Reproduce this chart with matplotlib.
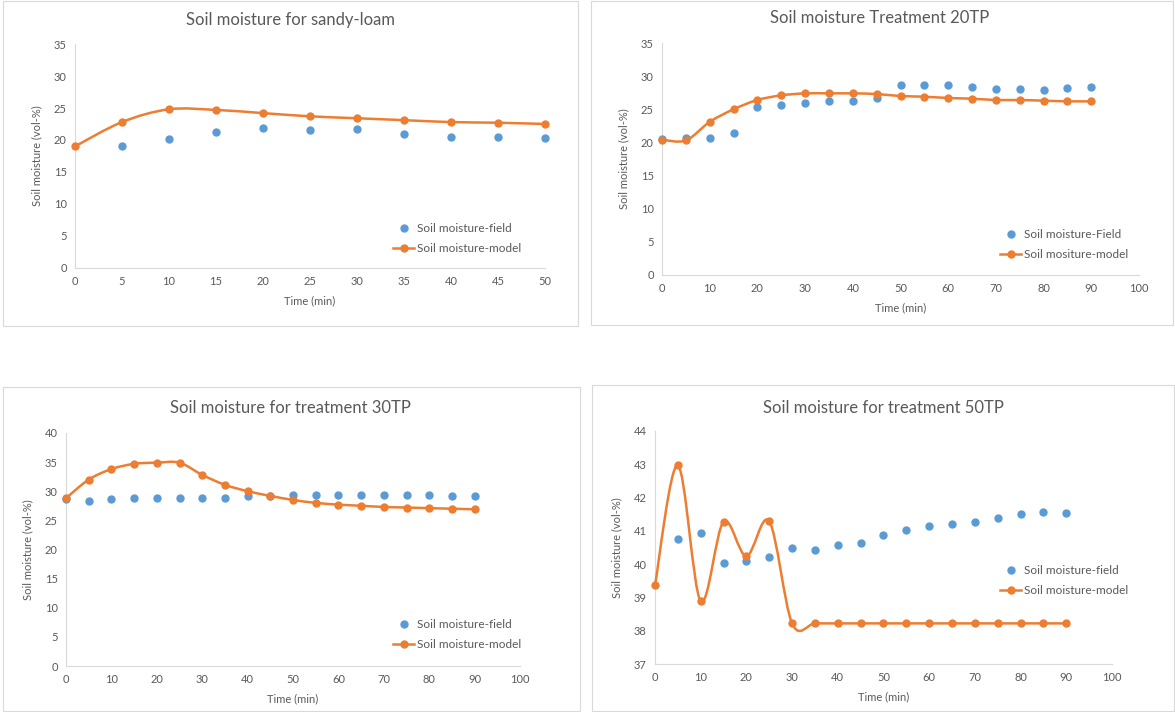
import numpy as np
import matplotlib
matplotlib.use('Agg')
import matplotlib.pyplot as plt
from matplotlib.path import Path
from matplotlib.patches import PathPatch, Rectangle
from matplotlib.lines import Line2D

plt.rcParams['font.family'] = ['Lato', 'DejaVu Sans']

BLUE = '#5B9BD5'
ORANGE = '#ED7D31'
GREY = '#595959'

# sandy-loam
t_sl = [0, 5, 10, 15, 20, 25, 30, 35, 40, 45, 50]
field_sl_t = [5, 10, 15, 20, 25, 30, 35, 40, 45, 50]
field_sl = [19.0, 20.2, 21.2, 21.8, 21.5, 21.7, 20.9, 20.5, 20.5, 20.3]
model_sl = [19.0, 22.8, 24.8, 24.7, 24.2, 23.7, 23.4, 23.1, 22.8, 22.7, 22.5]

# treatment 20TP
t_90 = [0, 5, 10, 15, 20, 25, 30, 35, 40, 45, 50, 55, 60, 65, 70, 75, 80, 85, 90]
field_20 = [20.5, 20.6, 20.6, 21.4, 25.3, 25.7, 26.0, 26.2, 26.3, 26.7,
            28.6, 28.7, 28.7, 28.4, 28.1, 28.0, 27.9, 28.2, 28.4]
model_20 = [20.4, 20.3, 23.1, 25.0, 26.4, 27.1, 27.4, 27.4, 27.4, 27.3,
            27.0, 26.9, 26.7, 26.6, 26.4, 26.4, 26.3, 26.2, 26.2]

# treatment 30TP
field_30 = [28.7, 28.4, 28.6, 28.8, 28.9, 28.8, 28.8, 28.9, 29.1, 29.2,
            29.3, 29.3, 29.3, 29.3, 29.3, 29.3, 29.3, 29.1, 29.1]
model_30 = [28.8, 32.0, 33.8, 34.7, 34.9, 34.9, 32.8, 31.1, 30.0, 29.2,
            28.5, 28.0, 27.7, 27.5, 27.3, 27.2, 27.1, 27.0, 26.9]

# treatment 50TP
field_50_t = t_90[1:]
field_50 = [40.77, 40.94, 40.02, 40.08, 40.22, 40.48, 40.42, 40.56, 40.62,
            40.88, 41.04, 41.14, 41.20, 41.26, 41.40, 41.51, 41.58, 41.55]
model_50 = [39.36, 42.97, 38.89, 41.27, 40.24, 41.29, 38.22, 38.22, 38.22, 38.22,
            38.22, 38.22, 38.22, 38.22, 38.22, 38.22, 38.22, 38.22, 38.22]


def smooth_path(x, y):
    # Excel style smoothed line: cubic bezier through the points
    pts = np.column_stack([x, y]).astype(float)
    n = len(pts)
    verts = [pts[0]]
    codes = [Path.MOVETO]
    for i in range(n - 1):
        p0 = pts[i - 1] if i > 0 else pts[i]
        p1 = pts[i]
        p2 = pts[i + 1]
        p3 = pts[i + 2] if i + 2 < n else pts[i + 1]
        verts += [p1 + (p2 - p0) / 6, p2 - (p3 - p1) / 6, p2]
        codes += [Path.CURVE4] * 3
    return Path(verts, codes)


fig = plt.figure(figsize=(11.75, 7.12), dpi=100)

# panel frames (pixels: x0, y0, x1, y1 from top)
for x0, y0, x1, y1 in [(3, 1, 578, 326), (591, 1, 1173, 325),
                       (3, 387, 580, 711), (592, 385, 1174, 711)]:
    fig.patches.append(Rectangle((x0 / 1175, 1 - y1 / 712), (x1 - x0) / 1175, (y1 - y0) / 712,
                                 transform=fig.transFigure, fill=False,
                                 edgecolor='#d9d9d9', linewidth=0.8))

panels = [
    dict(rect=[0.0638, 0.6236, 0.4, 0.3146], title='Soil moisture for sandy-loam',
         tpos=(290, 20), ft=field_sl_t, fv=field_sl, mt=t_sl, mv=model_sl,
         xlim=(0, 50), xticks=range(0, 51, 5), ylim=(0, 35), yticks=range(0, 36, 5),
         labels=('Soil moisture-field', 'Soil moisture-model'), leg=(0.677, 0.13)),
    dict(rect=[0.5634, 0.6138, 0.406, 0.3258], title='Soil moisture Treatment 20TP',
         tpos=(880, 18), ft=t_90, fv=field_20, mt=t_90, mv=model_20,
         xlim=(0, 100), xticks=range(0, 101, 10), ylim=(0, 35), yticks=range(0, 36, 5),
         labels=('Soil moisture-Field', 'Soil mositure-model'), leg=(0.709, 0.131)),
    dict(rect=[0.0562, 0.0646, 0.3864, 0.3273], title='Soil moisture for treatment 30TP',
         tpos=(290, 408), ft=t_90, fv=field_30, mt=t_90, mv=model_30,
         xlim=(0, 100), xticks=range(0, 101, 10), ylim=(0, 40), yticks=range(0, 41, 5),
         labels=('Soil moisture-field', 'Soil moisture-model'), leg=(0.72, 0.135)),
    dict(rect=[0.5574, 0.0674, 0.389, 0.3273], title='Soil moisture for treatment 50TP',
         tpos=(883, 408), ft=field_50_t, fv=field_50, mt=t_90, mv=model_50,
         xlim=(0, 100), xticks=range(0, 101, 10), ylim=(37, 44), yticks=range(37, 45, 1),
         labels=('Soil moisture-field', 'Soil moisture-model'), leg=(0.755, 0.358)),
]

for p in panels:
    ax = fig.add_axes(p['rect'])
    ax.plot(p['ft'], p['fv'], 'o', color=BLUE, markersize=5, zorder=3, clip_on=False)
    ax.add_patch(PathPatch(smooth_path(p['mt'], p['mv']), fill=False,
                           edgecolor=ORANGE, linewidth=1.8, zorder=4, clip_on=False))
    ax.plot(p['mt'], p['mv'], 'o', color=ORANGE, markersize=5, zorder=5, clip_on=False)
    ax.set_xlim(*p['xlim'])
    ax.set_ylim(*p['ylim'])
    ax.set_xticks(list(p['xticks']))
    ax.set_yticks(list(p['yticks']))
    for s in ['top', 'right']:
        ax.spines[s].set_visible(False)
    for s in ['left', 'bottom']:
        ax.spines[s].set_color('#d9d9d9')
    ax.tick_params(length=0, labelsize=8, colors=GREY, pad=6)
    ax.set_xlabel('Time (min)', fontsize=8, color=GREY, labelpad=6)
    ax.set_ylabel('Soil moisture (vol-%)', fontsize=8, color=GREY, labelpad=8)
    fig.text(p['tpos'][0] / 1175, 1 - p['tpos'][1] / 712, p['title'], fontsize=12,
             color=GREY, ha='center', va='center')
    handles = [Line2D([], [], color=BLUE, marker='o', linestyle='none', markersize=5),
               Line2D([], [], color=ORANGE, marker='o', linewidth=1.8, markersize=5)]
    ax.legend(handles, p['labels'], loc='center left', bbox_to_anchor=p['leg'],
              frameon=False, fontsize=8.5, labelcolor=GREY, borderpad=0,
              borderaxespad=0, handlelength=1.8, handletextpad=0.2, labelspacing=0.75)

plt.savefig('out.png', dpi=100)
